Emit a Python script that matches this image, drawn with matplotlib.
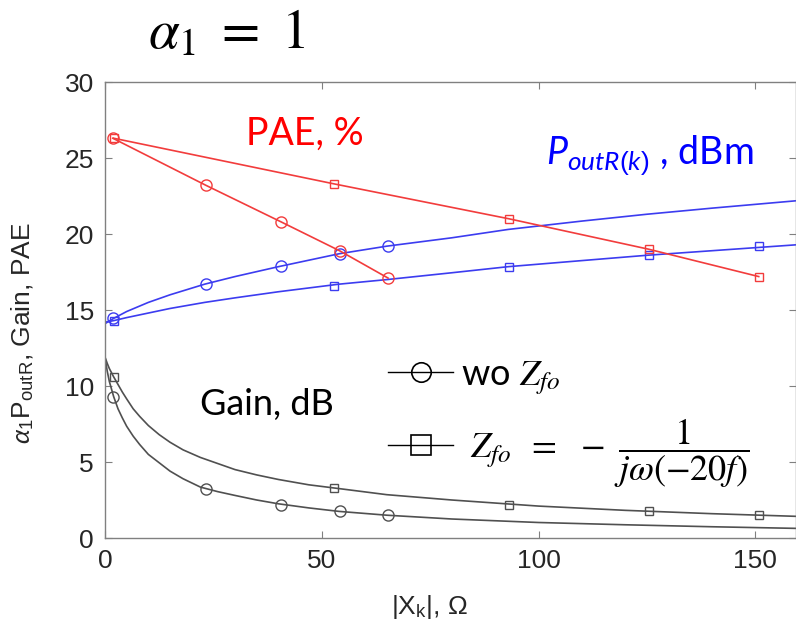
import numpy as np
import matplotlib
matplotlib.use('Agg')
import matplotlib.pyplot as plt
from matplotlib.lines import Line2D
from matplotlib.font_manager import FontProperties

plt.rcParams['mathtext.fontset'] = 'custom'
plt.rcParams['mathtext.rm'] = 'Liberation Sans'
plt.rcParams['mathtext.it'] = 'Lato:italic'

# marker positions |X_k| (Ohm)
x_wo = [1.8, 23.3, 40.6, 54.1, 65.3]
x_zf = [2.0, 52.8, 93.2, 125.4, 150.8]

# values at the markers
pae_wo = [26.3, 23.2, 20.8, 18.9, 17.1]
pae_zf = [26.3, 23.3, 21.0, 19.0, 17.2]
pout_wo = [14.45, 16.7, 17.9, 18.7, 19.2]
pout_zf = [14.3, 16.6, 17.85, 18.6, 19.2]
gain_wo = [9.3, 3.2, 2.2, 1.75, 1.5]
gain_zf = [10.6, 3.3, 2.2, 1.75, 1.5]

# smooth fitted curves
x_gain_fit = [0, 0.5, 1, 2, 3, 4, 5, 6.5, 8, 10, 12.5, 15, 18, 22, 26, 30, 35, 40, 47, 54,
              65, 80, 100, 120, 140, 160]
gain_wo_fit = [11.9, 11.0, 10.3, 9.3, 8.5, 7.9, 7.35, 6.7, 6.15, 5.5, 4.95, 4.4, 3.9, 3.35,
               3.05, 2.8, 2.5, 2.25, 1.98, 1.75, 1.5, 1.25, 1.02, 0.87, 0.74, 0.63]
gain_zf_fit = [11.9, 11.5, 11.15, 10.6, 10.1, 9.6, 9.15, 8.5, 8.0, 7.4, 6.8, 6.3, 5.8, 5.3,
               4.9, 4.5, 4.15, 3.85, 3.5, 3.25, 2.85, 2.5, 2.1, 1.82, 1.6, 1.42]

x_pout_fit = [0, 2, 5, 10, 15, 23, 30, 40, 54, 65, 80, 93, 110, 125, 140, 160]
pout_wo_fit = [14.1, 14.45, 14.9, 15.5, 16.0, 16.7, 17.2, 17.85, 18.7, 19.2, 19.75, 20.3, 20.85, 21.3, 21.7, 22.2]
pout_zf_fit = [14.2, 14.3, 14.5, 14.8, 15.1, 15.5, 15.8, 16.2, 16.7, 17.0, 17.45, 17.85, 18.25, 18.6, 18.9, 19.3]

red = '#f23c3c'
blue = '#3c3cf0'
grey = '#505050'

fig = plt.figure(figsize=(7.96, 6.37), dpi=100)
ax = fig.add_axes([105/796, 1-538/637, 691/796, 456/637])

# gain
ax.plot(x_gain_fit, gain_wo_fit, color=grey, lw=1.2)
ax.plot(x_gain_fit, gain_zf_fit, color=grey, lw=1.2)
ax.plot(x_wo, gain_wo, ls='none', marker='o', ms=8, mfc='none', mec=grey, mew=1.0)
ax.plot(x_zf, gain_zf, ls='none', marker='s', ms=5.5, mfc='none', mec=grey, mew=1.0)

# output power
ax.plot(x_pout_fit, pout_wo_fit, color=blue, lw=1.2)
ax.plot(x_pout_fit, pout_zf_fit, color=blue, lw=1.2)
ax.plot(x_wo, pout_wo, ls='none', marker='o', ms=8, mfc='none', mec=blue, mew=1.0)
ax.plot(x_zf, pout_zf, ls='none', marker='s', ms=5.5, mfc='none', mec=blue, mew=1.0)

# PAE
ax.plot(x_wo, pae_wo, color=red, lw=1.2, marker='o', ms=8, mfc='none', mew=1.0)
ax.plot(x_zf, pae_zf, color=red, lw=1.2, marker='s', ms=5.5, mfc='none', mew=1.0)

ax.set_xlim(0, 159.4)
ax.set_ylim(0, 30)
ax.set_xticks([0, 50, 100, 150])
ax.set_yticks([0, 5, 10, 15, 20, 25, 30])
ax.tick_params(direction='in', top=True, right=True, length=5, width=0.8,
               color='#808080', labelcolor='#262626', labelsize=19, pad=8)
for lab in ax.get_xticklabels() + ax.get_yticklabels():
    lab.set_family('Liberation Sans')
for sp in ax.spines.values():
    sp.set_color('#808080')
    sp.set_linewidth(1.0)

ax.set_xlabel(r'|X$_{\rm k}$|, $\Omega$', fontsize=19, family='Liberation Sans', color='#262626')
ax.xaxis.set_label_coords(0.47, -0.12)
ax.set_ylabel(r'$\alpha_1$P$_{\rm outR}$, Gain, PAE', fontsize=19, family='Liberation Sans', color='#262626')
ax.yaxis.set_label_coords(-0.1, 0.45)

# annotations
ax.text(46.1, 26.6, 'PAE, %', color='red', fontsize=27, family='Lato', ha='center', va='center')
ax.text(125.6, 25.2, r'$P_{outR(k)}$ , dBm', color='blue', fontsize=27, family='Lato',
        ha='center', va='center')
ax.text(37.3, 8.75, 'Gain, dB', color='black', fontsize=26, family='Lato', ha='center', va='center')

fig.text(148/796, 1-33/637, r'$\alpha_1\ =\ 1$', fontsize=40, math_fontfamily='stix',
         ha='left', va='center')

handles = [Line2D([], [], color='black', lw=1.0, marker='o', ms=14, mfc='none', mew=1.2),
           Line2D([], [], color='black', lw=1.0, marker='s', ms=15, mfc='none', mew=1.2)]
labels = [r'wo $Z_{fo}$', r' $Z_{fo}\;\;=\;\;-\;\dfrac{1}{j\omega(-20f)}$']
prop = FontProperties(family='Lato', size=26, math_fontfamily='stix')
ax.legend(handles, labels, prop=prop, frameon=False, loc='upper left',
          bbox_to_anchor=(0.41, 0.395), borderpad=0, borderaxespad=0,
          handlelength=1.8, handletextpad=0.2, labelspacing=0.55)

fig.savefig('out.png', dpi=100)
